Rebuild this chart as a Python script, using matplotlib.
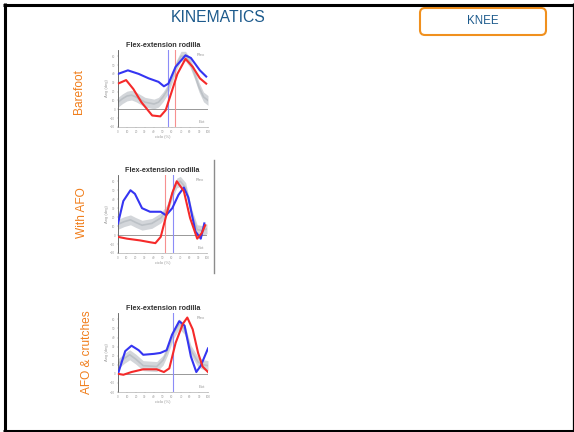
import matplotlib
matplotlib.use("Agg")
import matplotlib.pyplot as plt
from matplotlib.patches import FancyBboxPatch
import numpy as np

plt.rcParams['font.family'] = ['Liberation Sans', 'DejaVu Sans']

W, H = 574, 432

# ---- data: knee flexion-extension (deg) over gait cycle (%) ----
conditions = ["Barefoot", "With AFO", "AFO & crutches"]

# Barefoot
bare_blue_x = [0, 11, 23, 34, 45, 51, 56, 64, 75, 81, 91, 98]
bare_blue_y = [40, 44, 40, 35, 31, 26, 29, 48, 61, 58, 44, 37]
bare_red_x = [0, 9, 17, 26, 38, 47, 53, 60, 66, 75, 83, 91, 98]
bare_red_y = [29, 33, 23, 8, -7, -8, -1, 21, 40, 57, 48, 35, 29]
bare_norm_x = [0, 5, 10, 15, 20, 30, 40, 45, 50, 55, 60, 65, 70, 75, 80, 85, 90, 95, 100]
bare_norm_y = [8, 12, 15, 16, 14, 8, 6, 8, 14, 22, 35, 50, 60, 60, 53, 40, 25, 14, 10]
bare_toe_off = {"blue": 56, "red": 63}

# With AFO
afo_blue_x = [0, 6, 14, 19, 27, 36, 48, 54, 61, 68, 74, 79, 87, 93, 97]
afo_blue_y = [13, 38, 50, 46, 30, 26, 26, 22, 30, 45, 53, 42, 4, -4, 13]
afo_red_x = [0, 10, 25, 36, 42, 48, 54, 61, 66, 74, 81, 89, 94, 98]
afo_red_y = [-2, -4, -6, -8, -9, -2, 21, 47, 60, 49, 19, -4, 2, 11]
afo_norm_x = [0, 7, 14, 20, 27, 38, 48, 55, 62, 66, 70, 76, 83, 89, 95, 100]
afo_norm_y = [12, 15, 17, 14, 11, 13, 19, 28, 49, 58, 60, 53, 23, 6, 5, 7]
afo_toe_off = {"red": 53, "blue": 62}

# AFO & crutches
cr_blue_x = [0, 8, 15, 23, 28, 40, 47, 54, 60, 68, 74, 81, 87, 92, 100]
cr_blue_y = [0, 25, 31, 26, 21, 22, 23, 26, 43, 58, 53, 19, 2, 9, 28]
cr_red_x = [0, 6, 15, 28, 43, 51, 57, 64, 72, 77, 83, 89, 94, 100]
cr_red_y = [0, -1, 2, 5, 5, 2, 6, 34, 55, 62, 49, 23, 8, 2]
cr_norm_x = [0, 7, 13, 20, 28, 43, 50, 55, 62, 68, 74, 81, 89, 95, 100]
cr_norm_y = [11, 17, 21, 16, 9, 8, 15, 26, 45, 55, 49, 26, 13, 10, 9]
cr_toe_off = {"blue": 61}

norm_sd = 5.5

x_ticks = list(range(0, 101, 10))
y_ticks = list(range(-20, 61, 10))

# ---- styling ----
BLUE = "#3535f2"
RED = "#f52a2a"
BAND = "#d3d6da"
BAND_MEAN = "#bcc1c6"
ORANGE = "#f07d1a"
NAVY = "#1c5a8c"
GRAYTXT = "#9a9a9a"

fig = plt.figure(figsize=(W / 100, H / 100), dpi=100)

# overlay in pixel units for frame, header and labels
ov = fig.add_axes([0, 0, 1, 1])
ov.set_xlim(0, W)
ov.set_ylim(H, 0)
ov.axis("off")

ov.plot([4.5, 4.5], [3, 432], color="black", lw=2.2, solid_capstyle="butt")
ov.plot([3, 573.5], [4.5, 4.5], color="black", lw=2.2, solid_capstyle="butt")
ov.plot([3, 573.5], [430.5, 430.5], color="black", lw=2.2, solid_capstyle="butt")
ov.plot([572.8, 572.8], [3, 432], color="black", lw=0.9, solid_capstyle="butt")

ov.text(218, 18, "KINEMATICS", color=NAVY, fontsize=11.3, ha="center", va="center")
box = FancyBboxPatch((420, 8), 126, 27, boxstyle="round,pad=0,rounding_size=5",
                     fc="white", ec="#f0901e", lw=1.5)
ov.add_patch(box)
ov.text(483, 21.5, "KNEE", color=NAVY, fontsize=8.3, ha="center", va="center")

ov.plot([214, 214], [160, 273], color="#8c8c8c", lw=1.0)

label_pos = [(79, 91), (82, 213), (87, 352)]
for name, (lx, ly) in zip(conditions, label_pos):
    ov.text(lx, ly, name, color=ORANGE, fontsize=8.6, rotation=90,
            ha="center", va="center")

# panel boxes in pixels: left, top, right, bottom
panels = [(118, 50, 208, 127), (118, 175, 207, 253), (118, 313, 208, 392)]

series = [
    (bare_norm_x, bare_norm_y, bare_blue_x, bare_blue_y, bare_red_x, bare_red_y, bare_toe_off),
    (afo_norm_x, afo_norm_y, afo_blue_x, afo_blue_y, afo_red_x, afo_red_y, afo_toe_off),
    (cr_norm_x, cr_norm_y, cr_blue_x, cr_blue_y, cr_red_x, cr_red_y, cr_toe_off),
]

line_colors = {"blue": "#8c8cf7", "red": "#f79090"}

for (l, t, r, b), (nx, ny, bx, by, rx, ry, toe) in zip(panels, series):
    ax = fig.add_axes([l / W, 1 - b / H, (r - l) / W, (b - t) / H])
    ax.set_xlim(0, 100)
    ax.set_ylim(-20, 67)
    nx_a = np.array(nx)
    ny_a = np.array(ny)
    ax.fill_between(nx_a, ny_a - norm_sd, ny_a + norm_sd, color=BAND, lw=0, zorder=1)
    ax.plot(nx_a, ny_a, color=BAND_MEAN, lw=1.2, zorder=2)
    ax.axhline(0, color="#707070", lw=0.5, zorder=2)
    for key, pos in toe.items():
        ax.axvline(pos, color=line_colors[key], lw=0.8, zorder=3)
    ax.plot(bx, by, color=BLUE, lw=1.5, zorder=4, solid_joinstyle="round")
    ax.plot(rx, ry, color=RED, lw=1.5, zorder=5, solid_joinstyle="round")

    ax.set_xticks(x_ticks)
    ax.set_yticks(y_ticks)
    ax.tick_params(labelsize=2.2, colors=GRAYTXT, length=1, width=0.3, pad=1)
    for s in ("top", "right"):
        ax.spines[s].set_visible(False)
    ax.spines["left"].set_color("#555555")
    ax.spines["left"].set_linewidth(0.6)
    ax.spines["bottom"].set_color("#b0b0b0")
    ax.spines["bottom"].set_linewidth(0.5)
    ax.set_title("Flex-extension rodilla", fontsize=5.2, fontweight="bold",
                 color="#333333", pad=2.5)
    ax.set_ylabel("Ang (deg)", fontsize=3, color=GRAYTXT, labelpad=1)
    ax.set_xlabel("ciclo (%)", fontsize=3, color=GRAYTXT, labelpad=1)
    ax.text(0.97, 0.96, "Flex", transform=ax.transAxes, fontsize=3.2,
            color=GRAYTXT, ha="right", va="top")
    ax.text(0.97, 0.04, "Ext", transform=ax.transAxes, fontsize=3.2,
            color=GRAYTXT, ha="right", va="bottom")

fig.savefig("out.png", dpi=100)
